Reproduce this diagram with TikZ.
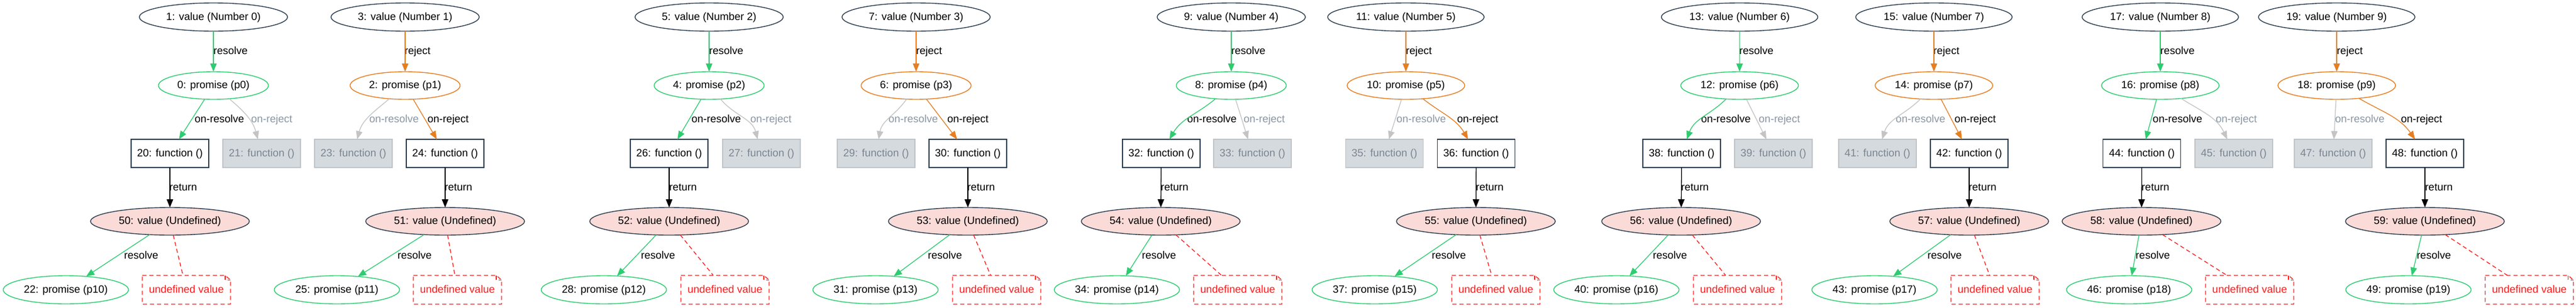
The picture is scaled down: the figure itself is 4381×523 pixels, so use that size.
\documentclass[tikz,border=0pt]{standalone}
\usepackage{fontspec}
\setmainfont{Liberation Sans}
\usetikzlibrary{arrows.meta,shapes.geometric}
\definecolor{dark}{HTML}{2C3E50}
\definecolor{grn}{HTML}{2ECC71}
\definecolor{org}{HTML}{E67E22}
\definecolor{pinkfill}{HTML}{FADBD8}
\definecolor{gfill}{HTML}{D5DADF}
\definecolor{gborder}{HTML}{BFC4C8}
\definecolor{gtext}{HTML}{7B8590}
\definecolor{glabel}{HTML}{8A96A3}
\definecolor{gedge}{HTML}{C4C4C4}
\definecolor{notered}{HTML}{FF1A1A}
\newcommand\fs{\fontsize{18}{21}\selectfont}
\newcommand\grp[8]{%
 \pgfmathtruncatemacro\gVa{2*#1+1}%
 \pgfmathtruncatemacro\gPa{2*#1}%
 \pgfmathtruncatemacro\gFl{20+3*#1}%
 \pgfmathtruncatemacro\gFr{21+3*#1}%
 \pgfmathtruncatemacro\gPb{22+3*#1}%
 \pgfmathtruncatemacro\gUd{50+#1}%
 \pgfmathtruncatemacro\gPn{10+#1}%
 \ifnum#1<5 \def\gVw{252pt}\def\gPw{187pt}\else\def\gVw{266pt}\def\gPw{200pt}\fi
 \node[topval, minimum width=\gVw] (v\gVa) at (#2,-29) {\gVa: value (Number #1)};
 \ifnum#8=0
  \node[prom, draw=grn, minimum width=\gPw] (p\gPa) at (#2,-145.5) {\gPa: promise (p#1)};
  \node[fn] (f\gFl) at (#3,-261) {\gFl: function ()};
  \node[fngrey] (f\gFr) at (#4,-261) {\gFr: function ()};
 \else
  \node[prom, draw=org, minimum width=\gPw] (p\gPa) at (#2,-145.5) {\gPa: promise (p#1)};
  \node[fngrey] (f\gFl) at (#3,-261) {\gFl: function ()};
  \node[fn] (f\gFr) at (#4,-261) {\gFr: function ()};
 \fi
 \node[undefval] (u\gUd) at (#5,-376.5) {\gUd: value (Undefined)};
 \node[botprom] (p\gPb) at (#6,-493) {\gPb: promise (p\gPn)};
 \node[undefnote] (n\gUd) at (#7,-493) {undefined value};
}
\newcommand\lbls[7]{%
 \ifnum#7=0
  \node[lbl] (lt#1) at (#2,-92.5) {resolve};
  \node[lbl] (lo#1) at (#3,-208.3) {on-resolve};
  \node[glbl] (lj#1) at (#4,-208.3) {on-reject};
 \else
  \node[lbl] (lt#1) at (#2,-92.5) {reject};
  \node[glbl] (lo#1) at (#3,-208.3) {on-resolve};
  \node[lbl] (lj#1) at (#4,-208.3) {on-reject};
 \fi
 \node[lbl] (lr#1) at (#5,-324) {return};
 \node[lbl] (lb#1) at (#6,-440) {resolve};
}
\begin{document}
\begin{tikzpicture}[x=1pt,y=1pt,
 base/.style={font=\fs, inner sep=0pt, outer sep=0pt, line width=1.4pt, text height=12pt, text depth=2pt},
 topval/.style={base, ellipse, draw=dark, minimum height=48pt},
 prom/.style={base, ellipse, minimum height=47pt},
 fn/.style={base, rectangle, draw=dark, fill=white, minimum width=132pt, minimum height=48pt},
 fngrey/.style={base, rectangle, draw=gborder, fill=gfill, text=gtext, minimum width=132pt, minimum height=48pt},
 undefval/.style={base, ellipse, draw=dark, fill=pinkfill, minimum width=270pt, minimum height=47pt},
 botprom/.style={base, ellipse, draw=grn, minimum width=213pt, minimum height=48pt},
 undefnote/.style={base, rectangle, text=notered, minimum width=150pt, minimum height=49pt},
 notedash/.style={draw=notered, line width=1.3pt, dash pattern=on 7pt off 5pt},
 lbl/.style={font=\fs, inner sep=0pt, anchor=base west},
 glbl/.style={lbl, text=glabel},
 arr/.style={line width=1.3pt, -{Triangle[length=14pt,width=11pt]}},
 egreen/.style={arr, draw=grn},
 eorange/.style={arr, draw=org},
 egrey/.style={arr, draw=gedge},
 eblack/.style={arr, draw=black},
 edash/.style={draw=notered, line width=1.3pt, dash pattern=on 7pt off 5pt}
]
\useasboundingbox (0,0) rectangle (4381,-523);

\grp{0}{363}{289}{445}{289}{112}{317}{0}
\grp{1}{689}{601}{757}{757}{573}{778}{1}
\grp{2}{1206}{1138}{1295}{1138}{1027}{1233}{0}
\grp{3}{1558}{1490}{1646}{1646}{1489}{1695}{1}
\grp{4}{2094}{1975}{2130}{1974}{1899.5}{2105}{0}
\grp{5}{2391}{2354.5}{2510.5}{2510}{2338}{2544}{1}
\grp{6}{2958.5}{2860}{3016}{2859}{2749}{2955}{0}
\grp{7}{3289}{3193}{3349}{3349}{3188}{3393}{1}
\grp{8}{3674}{3642.7}{3799}{3642}{3621}{3826}{0}
\grp{9}{3974}{3968}{4124}{4124}{4096}{4301.5}{1}

\lbls{0}{363}{331}{427}{288}{211}{0}
\lbls{1}{688}{628}{727}{756}{676}{1}
\lbls{2}{1206}{1176}{1276}{1138}{1090}{0}
\lbls{3}{1558}{1511}{1611}{1645}{1578}{1}
\lbls{4}{2094}{2019}{2115}{1974}{1942}{0}
\lbls{5}{2391}{2375}{2478}{2510}{2435}{1}
\lbls{6}{2958}{2893}{2991}{2859}{2811}{0}
\lbls{7}{3288}{3224}{3324}{3348}{3278}{1}
\lbls{8}{3674}{3661}{3768}{3642}{3632}{0}
\lbls{9}{3974}{3971}{4083}{4124}{4110}{1}

% group 0
\draw[egreen] (v1) -- (p0);
\draw[egreen] (p0) -- (f20);
\draw[egrey] (p0) to[out=-40,in=105] (f21);
\draw[eblack] (f20) -- (u50);
\draw[egreen] (u50) -- (p22);
\draw[edash] (u50) -- (n50);
% group 1
\draw[eorange] (v3) -- (p2);
\draw[egrey] (p2) to[out=-140,in=75] (f23);
\draw[eorange] (p2) -- (f24);
\draw[eblack] (f24) -- (u51);
\draw[egreen] (u51) -- (p25);
\draw[edash] (u51) -- (n51);
% group 2
\draw[egreen] (v5) -- (p4);
\draw[egreen] (p4) -- (f26);
\draw[egrey] (p4) to[out=-50,in=105] (f27);
\draw[eblack] (f26) -- (u52);
\draw[egreen] (u52) -- (p28);
\draw[edash] (u52) -- (n52);
% group 3
\draw[eorange] (v7) -- (p6);
\draw[egrey] (p6) to[out=-125,in=80] (f29);
\draw[eorange] (p6) -- (f30);
\draw[eblack] (f30) -- (u53);
\draw[egreen] (u53) -- (p31);
\draw[edash] (u53) -- (n53);
% group 4
\draw[egreen] (v9) -- (p8);
\draw[egreen] (p8) to[out=-140,in=60] (f32);
\draw[egrey] (p8) -- (f33);
\draw[eblack] (f32) -- (u54);
\draw[egreen] (u54) -- (p34);
\draw[edash] (u54) -- (n54);
% group 5
\draw[eorange] (v11) -- (p10);
\draw[egrey] (p10) -- (f35);
\draw[eorange] (p10) to[out=-38,in=120] (f36);
\draw[eblack] (f36) -- (u55);
\draw[egreen] (u55) -- (p37);
\draw[edash] (u55) -- (n55);
% group 6
\draw[egreen] (v13) -- (p12);
\draw[egreen] (p12) to[out=-135,in=70] (f38);
\draw[egrey] (p12) -- (f39);
\draw[eblack] (f38) -- (u56);
\draw[egreen] (u56) -- (p40);
\draw[edash] (u56) -- (n56);
% group 7
\draw[eorange] (v15) -- (p14);
\draw[egrey] (p14) to[out=-135,in=72] (f41);
\draw[eorange] (p14) -- (f42);
\draw[eblack] (f42) -- (u57);
\draw[egreen] (u57) -- (p43);
\draw[edash] (u57) -- (n57);
% group 8
\draw[egreen] (v17) -- (p16);
\draw[egreen] (p16) -- (f44);
\draw[egrey] (p16) to[out=-32,in=115] (f45);
\draw[eblack] (f44) -- (u58);
\draw[egreen] (u58) -- (p46);
\draw[edash] (u58) -- (n58);
% group 9
\draw[eorange] (v19) -- (p18);
\draw[egrey] (p18) -- (f47);
\draw[eorange] (p18) to[out=-30,in=125] (f48);
\draw[eblack] (f48) -- (u59);
\draw[egreen] (u59) -- (p49);
\draw[edash] (u59) -- (n59);

% note outlines with folded corner
\foreach \i in {50,...,59}{
 \draw[notedash] (n\i.north west) -- ([xshift=-9pt]n\i.north east) -- ([yshift=-8pt]n\i.north east) -- (n\i.south east) -- (n\i.south west) -- cycle;
 \draw[notedash] ([xshift=-9pt]n\i.north east) |- ([yshift=-8pt]n\i.north east);
}
\end{tikzpicture}
\end{document}
